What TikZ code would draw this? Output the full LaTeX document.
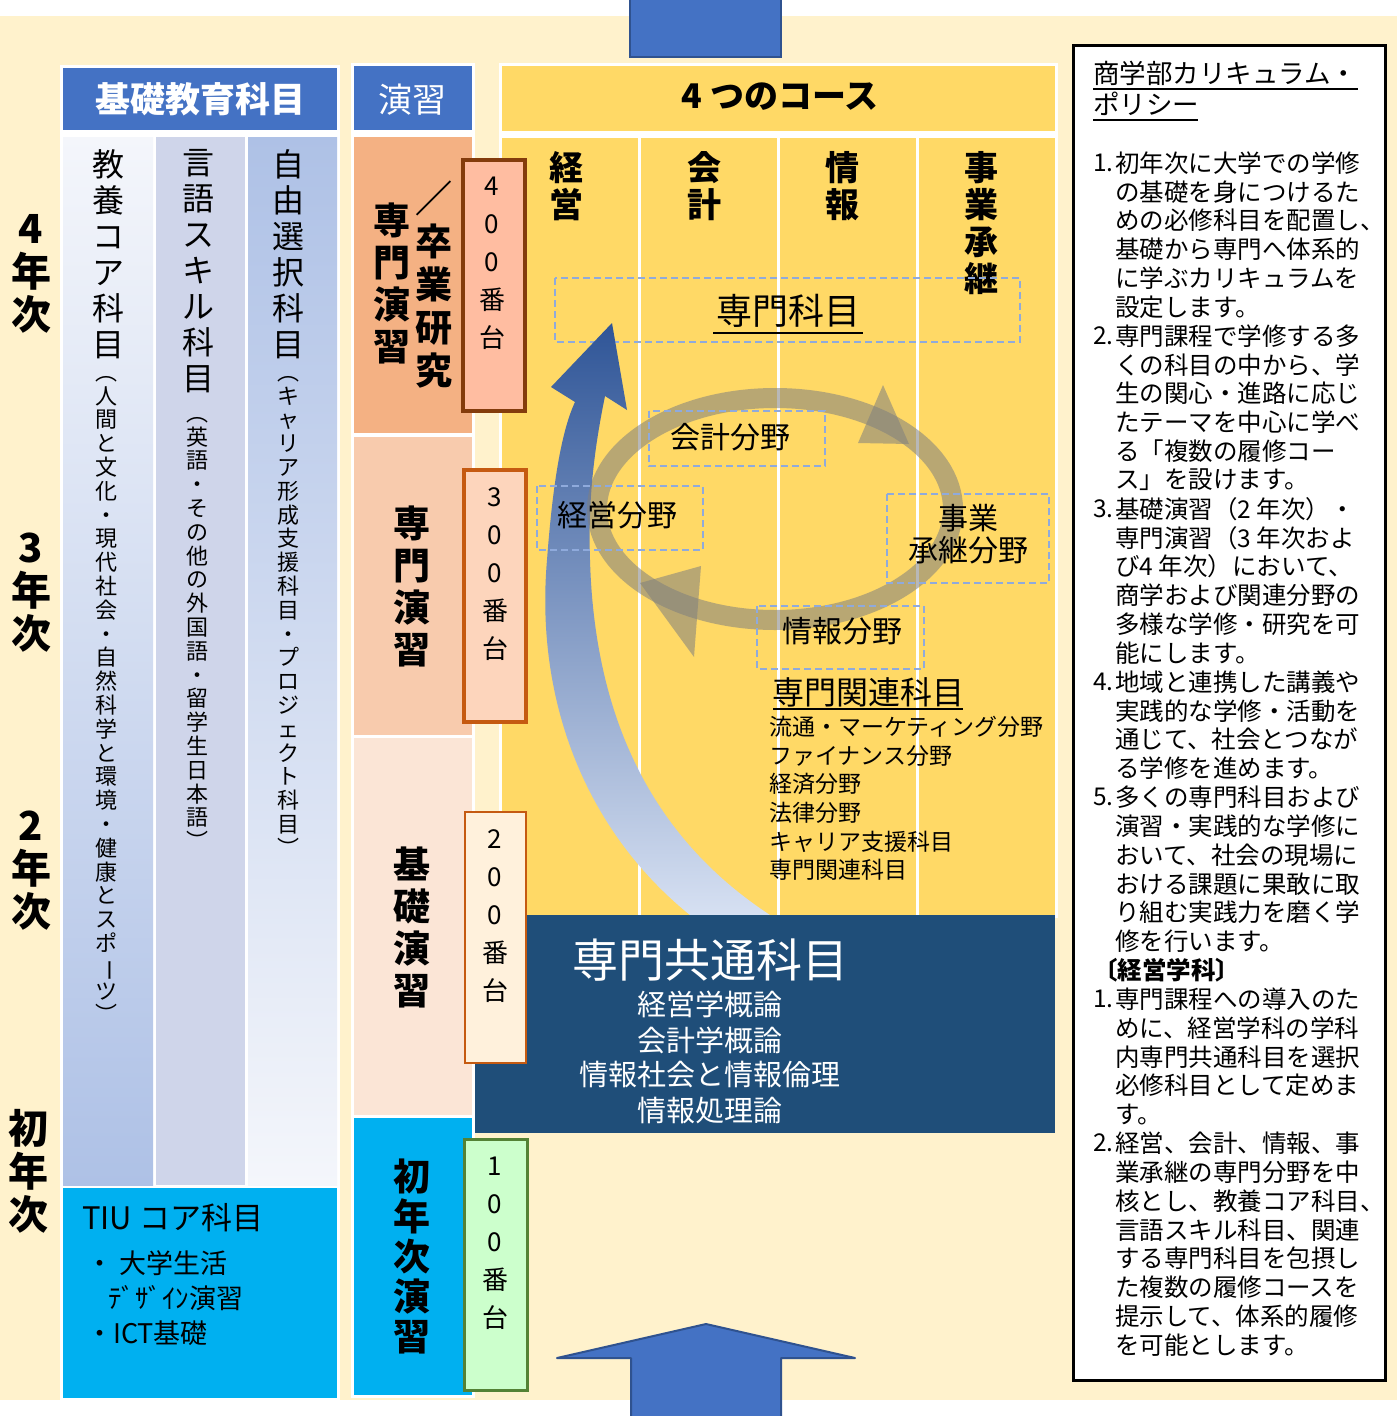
\documentclass[tikz,border=0pt]{standalone}
\usepackage{fontspec}
\usepackage{graphicx}
\setmainfont{Noto Sans CJK JP}
\definecolor{cream}{HTML}{FFF2CC}
\definecolor{hblue}{HTML}{4472C4}
\definecolor{hblued}{HTML}{2F528F}
\definecolor{gold}{HTML}{FFD966}
\definecolor{navy}{HTML}{1F4E79}
\definecolor{cyanb}{HTML}{00B0F0}
\definecolor{sal}{HTML}{F4B183}
\definecolor{salb}{HTML}{F8CBAD}
\definecolor{salc}{HTML}{FBE5D6}
\definecolor{bxfa}{HTML}{FFBDA1}
\definecolor{bxda}{HTML}{843C0C}
\definecolor{bxfb}{HTML}{FDD5BC}
\definecolor{bxdb}{HTML}{C55A11}
\definecolor{bxfc}{HTML}{FFF1DC}
\definecolor{bxfd}{HTML}{CCFFCC}
\definecolor{bxdd}{HTML}{548235}
\definecolor{dashc}{HTML}{8FAADC}
\definecolor{ellc}{HTML}{7F7F7F}
\definecolor{colmid}{HTML}{CFD5EA}
\definecolor{pale}{HTML}{F4F6FB}
\definecolor{lbl}{HTML}{AEC1E6}
\definecolor{lbm}{HTML}{D0DAEF}
\definecolor{arrtop}{HTML}{2F5597}
\definecolor{arrmid}{HTML}{8FAADC}
\definecolor{arrbot}{HTML}{D6E0F2}
\newcommand\fz[1]{\fontsize{#1}{#1}\selectfont}
\makeatletter
\def\vt@end{VTEND}
\newdimen\vtw
\def\vt@loop#1{\ifx\vt@end#1\else\hbox to\vtw{\hss#1\hss}\expandafter\vt@loop\fi}
\newcommand\vstack[2]{\vbox{\vtw=1.4em\baselineskip=#1\lineskiplimit=-\maxdimen\lineskip=0pt\vt@loop#2\vt@end}}
\makeatother
\newcommand\vbar{{\rotatebox[origin=c]{-90}{ー}}}
\tikzset{
  vtn/.style={inner sep=0pt, anchor=north},
  wfr/.style={fill=white},
  dbox/.style={draw=dashc, line width=2.5pt, dash pattern=on 7pt off 4pt},
  lw/.style={anchor=west, inner sep=0pt},
}
\begin{document}
\begin{tikzpicture}[x=1pt,y=-1pt]
\useasboundingbox (0,0) rectangle (1397,1416);
\fill[white] (0,0) rectangle (1397,1416);
\fill[cream] (0,16) rectangle (1397,1400);

% ---------- white frames
\fill[wfr] (60,65) rectangle (340,1400);
\fill[wfr] (351,63) rectangle (475,1398);
\fill[wfr] (499,63) rectangle (1058,918);

% ---------- year labels
\node[vtn,font=\bfseries\fz{40}] (y4) at (31,214) {\vstack{43pt}{4年次}};
\node[vtn,font=\bfseries\fz{40}] (y3) at (31,533) {\vstack{43pt}{3年次}};
\node[vtn,font=\bfseries\fz{40}] (y2) at (31,811) {\vstack{43pt}{2年次}};
\node[vtn,font=\bfseries\fz{40}] (y1) at (29,1109) {\vstack{43pt}{初年次}};

% ---------- left section
\fill[hblue] (63,68) rectangle (337,130);
\node[font=\bfseries\fz{35},text=white] (kiso) at (200,99) {基礎教育科目};
\shade[top color=pale, middle color=lbm, bottom color=lbl] (63,137) rectangle (153,1185);
\fill[colmid] (156,137) rectangle (245,1185);
\shade[top color=lbl, middle color=lbm, bottom color=pale] (248,137) rectangle (337,1185);
\node[vtn,font=\fz{32}] (ca) at (108,149) {\vstack{36pt}{教養コア科目}};
\node[vtn,font=\fz{22}] (cas) at (106,376) {\vstack{23.8pt}{︵人間と文化・現代社会・自然科学と環境・健康とスポ\vbar ツ︶}};
\node[vtn,font=\fz{32}] (cb) at (198,149) {\vstack{36pt}{言語スキル科目}};
\node[vtn,font=\fz{22}] (cbs) at (197,417) {\vstack{23.8pt}{︵英語・その他の外国語・留学生日本語︶}};
\node[vtn,font=\fz{32}] (cc) at (288,149) {\vstack{36pt}{自由選択科目}};
\node[vtn,font=\fz{22}] (ccs) at (288,376) {\vstack{23.8pt}{︵キャリア形成支援科目・プロジェクト科目︶}};
\fill[cyanb] (63,1188) rectangle (337,1398);
\node[lw,font=\fz{31}] (tiu) at (82,1218) {TIU コア科目};
\node[lw,font=\fz{27}] (tiua) at (86,1263) {・ 大学生活};
\node[lw,font=\fz{27}] (tiub) at (108,1298) {ﾃﾞｻﾞｲﾝ演習};
\node[lw,font=\fz{27}] (tiuc) at (86,1333) {・ICT基礎};

% ---------- middle section
\fill[hblue] (354,66) rectangle (472,130);
\node[font=\fz{34},text=white] (ens) at (412,100) {演習};
\fill[sal] (354,137) rectangle (472,433);
\fill[salb] (354,437) rectangle (472,735);
\fill[salc] (354,738) rectangle (472,1115);
\fill[cyanb] (354,1118) rectangle (472,1395);
\node[vtn,font=\bfseries\fz{37}] (m4a) at (392,203) {\vstack{42pt}{専門演習}};
\node[vtn,font=\bfseries\fz{37}] (m4b) at (434,181) {\vstack{43pt}{／卒業研究}};
\node[vtn,font=\bfseries\fz{37}] (m3) at (412,506) {\vstack{42pt}{専門演習}};
\node[vtn,font=\bfseries\fz{37}] (m2) at (412,847) {\vstack{42pt}{基礎演習}};
\node[vtn,font=\bfseries\fz{37}] (m1) at (412,1159) {\vstack{40pt}{初年次演習}};

% ---------- courses
\fill[gold] (502,66) rectangle (1055,131);
\node[font=\bfseries\fz{34}] (four) at (780,97) {4 つのコース};
\fill[gold] (502,138) rectangle (638,915);
\fill[gold] (641,138) rectangle (777,915);
\fill[gold] (780,138) rectangle (916,915);
\fill[gold] (919,138) rectangle (1055,915);
\node[vtn,font=\bfseries\fz{34}] (k1) at (566,151) {\vstack{37pt}{経営}};
\node[vtn,font=\bfseries\fz{34}] (k2) at (704,151) {\vstack{37pt}{会計}};
\node[vtn,font=\bfseries\fz{34}] (k3) at (842,151) {\vstack{37pt}{情報}};
\node[vtn,font=\bfseries\fz{34}] (k4) at (981,151) {\vstack{37pt}{事業承継}};

\draw[dbox] (555,278) rectangle (1020,342);
\node[font=\fz{36},inner sep=0pt] (senmon) at (788,311) {専門科目};
\draw[line width=1.5pt] (713,333) -- (863,333);

% blue curved arrow
\shade[top color=arrtop, middle color=arrmid, bottom color=arrbot]
  (690,915) .. controls (585,830) and (535,700) .. (547,560)
  .. controls (553,480) and (562,430) .. (575,402)
  -- (551,387) -- (612,323) -- (627,410) -- (605,396)
  .. controls (594,450) and (588,500) .. (590,560)
  .. controls (594,700) and (640,830) .. (770,915) -- cycle;

% cycle ellipse
\draw[line width=20pt, draw=ellc, opacity=0.55] (775,509) ellipse [x radius=178, y radius=111];
\fill[ellc, opacity=0.55] (883,385) -- (858,443) -- (909,444) -- cycle;
\fill[ellc, opacity=0.55] (694,657) -- (640,583) -- (701,566) -- cycle;

\draw[dbox] (649,411) rectangle (825,466);
\node[font=\fz{30}] (fa) at (730,437) {会計分野};
\draw[dbox] (537,486) rectangle (703,550);
\node[font=\fz{30}] (fb) at (617,515) {経営分野};
\draw[dbox] (887,494) rectangle (1049,583);
\node[font=\fz{30},align=center,inner sep=0pt] (fc) at (968,534) {事業\\[2pt]承継分野};
\draw[dbox] (757,606) rectangle (924,669);
\node[font=\fz{30}] (fd) at (842,631) {情報分野};

\node[font=\fz{32},inner sep=0pt] (kan) at (868,692) {専門関連科目};
\draw[line width=1.5pt] (773,709) -- (963,709);
\node[lw,font=\fz{23}] (r1) at (769,727) {流通・マーケティング分野};
\node[lw,font=\fz{23}] (r2) at (769,756) {ファイナンス分野};
\node[lw,font=\fz{23}] (r3) at (769,784) {経済分野};
\node[lw,font=\fz{23}] (r4) at (769,813) {法律分野};
\node[lw,font=\fz{23}] (r5) at (769,842) {キャリア支援科目};
\node[lw,font=\fz{23}] (r6) at (769,870) {専門関連科目};

% dark box
\fill[navy] (475,915) rectangle (1055,1133);
\node[font=\fz{46},text=white] (kyo) at (710,960) {専門共通科目};
\node[font=\fz{29},text=white] (ka) at (710,1004) {経営学概論};
\node[font=\fz{29},text=white] (kb) at (710,1040) {会計学概論};
\node[font=\fz{29},text=white] (kc) at (710,1075) {情報社会と情報倫理};
\node[font=\fz{29},text=white] (kd) at (710,1110) {情報処理論};

% number boxes
\draw[fill=bxfa, draw=bxda, line width=4pt] (463,160) rectangle (525,411);
\node[vtn,font=\fz{26}] (n4) at (492,177) {\vstack{38pt}{400番台}};
\draw[fill=bxfb, draw=bxdb, line width=4pt] (464,470) rectangle (526,722);
\node[vtn,font=\fz{26}] (n3) at (495,487) {\vstack{38pt}{300番台}};
\draw[fill=bxfc, draw=bxdb, line width=2.5pt] (465,812) rectangle (526,1063);
\node[vtn,font=\fz{26}] (n2) at (495,829) {\vstack{38pt}{200番台}};
\draw[fill=bxfd, draw=bxdd, line width=3pt] (464,1139) rectangle (527,1390);
\node[vtn,font=\fz{26}] (n1) at (495,1157) {\vstack{38pt}{100番台}};

% right box
\draw[fill=white, line width=3pt] (1073,45) rectangle (1385,1380);
\node[lw,font=\fz{26.5}] (ta) at (1093,73) {商学部カリキュラム・};
\node[lw,font=\fz{26.5}] (tb) at (1093,104) {ポリシー};
\draw[line width=1.3pt] (1093,89) -- (1358,89);
\draw[line width=1.3pt] (1093,120) -- (1198,120);
\foreach \nm/\tx [count=\i] in {
 1./初年次に大学での学修, {}/の基礎を身につけるた, {}/めの必修科目を配置し、,
 {}/基礎から専門へ体系的, {}/に学ぶカリキュラムを, {}/設定します。,
 2./専門課程で学修する多, {}/くの科目の中から、学, {}/生の関心・進路に応じ,
 {}/たテーマを中心に学べ, {}/る「複数の履修コー, {}/ス」を設けます。,
 3./基礎演習（2 年次）・, {}/専門演習（3 年次およ, {}/び4 年次）において、,
 {}/商学および関連分野の, {}/多様な学修・研究を可, {}/能にします。,
 4./地域と連携した講義や, {}/実践的な学修・活動を, {}/通じて、社会とつなが,
 {}/る学修を進めます。, 5./多くの専門科目および, {}/演習・実践的な学修に,
 {}/おいて、社会の現場に, {}/おける課題に果敢に取, {}/り組む実践力を磨く学,
 {}/修を行います。}{
  \pgfmathsetmacro\yy{163+(\i-1)*28.83}
  \node[lw,font=\fz{24.5}] at (1093,\yy) {\nm};
  \node[lw,font=\fz{24.5}] at (1115,\yy) {\tx};
}
\node[lw,font=\bfseries\fz{24.5}] (gak) at (1093,970) {〔経営学科〕};
\foreach \nm/\tx [count=\i from 30] in {
 1./専門課程への導入のた, {}/めに、経営学科の学科, {}/内専門共通科目を選択,
 {}/必修科目として定めま, {}/す。, 2./経営、会計、情報、事,
 {}/業承継の専門分野を中, {}/核とし、教養コア科目、, {}/言語スキル科目、関連,
 {}/する専門科目を包摂し, {}/た複数の履修コースを, {}/提示して、体系的履修,
 {}/を可能とします。}{
  \pgfmathsetmacro\yy{163+(\i-1)*28.83}
  \node[lw,font=\fz{24.5}] at (1093,\yy) {\nm};
  \node[lw,font=\fz{24.5}] at (1115,\yy) {\tx};
}

% big arrows
\draw[fill=hblue, draw=hblued, line width=1.5pt] (630,-2) rectangle (781,57);
\draw[fill=hblue, draw=hblued, line width=2pt, line join=round]
  (631,1418) -- (631,1358) -- (557,1358) -- (706,1324) -- (855,1358) -- (781,1358) -- (781,1418);
\end{tikzpicture}
\end{document}
